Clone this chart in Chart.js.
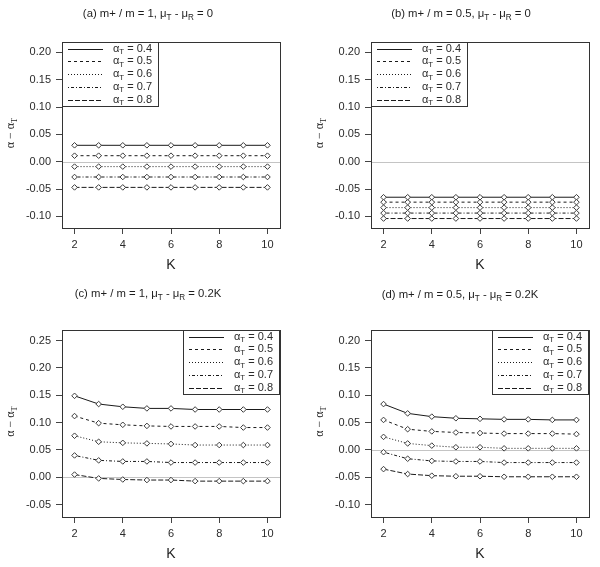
<!DOCTYPE html>
<html>
<head>
<meta charset="utf-8">
<script src="https://cdn.jsdelivr.net/npm/chart.js@4"></script>
<style>
body{margin:0;background:#fff;width:600px;height:567px;position:relative;overflow:hidden}
canvas{position:absolute}
</style>
</head>
<body>
<canvas id="pa" width="300" height="283" style="left:0;top:0"></canvas>
<canvas id="pb" width="300" height="283" style="left:300px;top:0"></canvas>
<canvas id="pc" width="300" height="287" style="left:0;top:280px"></canvas>
<canvas id="pd" width="300" height="287" style="left:300px;top:280px"></canvas>
<script>
const K = [2,3,4,5,6,7,8,9,10];
const alphaT = ['0.4','0.5','0.6','0.7','0.8'];
const xTicks = [2,4,6,8,10];
const yTicksAB = [-0.10,-0.05,0.00,0.05,0.10,0.15,0.20];
const yTicksC = [-0.05,0.00,0.05,0.10,0.15,0.20,0.25];
const yTicksD = [-0.10,-0.05,0.00,0.05,0.10,0.15,0.20];

// alpha - alpha_T, one row per alpha_T
const diffA = [
  [0.030,0.030,0.030,0.030,0.030,0.030,0.030,0.030,0.030],
  [0.011,0.011,0.011,0.011,0.011,0.011,0.011,0.011,0.011],
  [-0.009,-0.009,-0.009,-0.009,-0.009,-0.009,-0.009,-0.009,-0.009],
  [-0.028,-0.028,-0.028,-0.028,-0.028,-0.028,-0.028,-0.028,-0.028],
  [-0.047,-0.047,-0.047,-0.047,-0.047,-0.047,-0.047,-0.047,-0.047]
];
const diffB = [
  [-0.065,-0.065,-0.065,-0.065,-0.065,-0.065,-0.065,-0.065,-0.065],
  [-0.074,-0.074,-0.074,-0.074,-0.074,-0.074,-0.074,-0.074,-0.074],
  [-0.084,-0.084,-0.084,-0.084,-0.084,-0.084,-0.084,-0.084,-0.084],
  [-0.094,-0.094,-0.094,-0.094,-0.094,-0.094,-0.094,-0.094,-0.094],
  [-0.104,-0.104,-0.104,-0.104,-0.104,-0.104,-0.104,-0.104,-0.104]
];
const diffC = [
  [0.149,0.134,0.129,0.126,0.126,0.124,0.124,0.124,0.124],
  [0.112,0.099,0.096,0.094,0.093,0.093,0.093,0.091,0.091],
  [0.076,0.065,0.063,0.062,0.061,0.059,0.059,0.059,0.059],
  [0.040,0.031,0.029,0.029,0.027,0.027,0.027,0.027,0.027],
  [0.005,-0.002,-0.004,-0.005,-0.005,-0.007,-0.007,-0.007,-0.007]
];
const diffD = [
  [0.084,0.067,0.061,0.058,0.057,0.056,0.056,0.055,0.055],
  [0.055,0.038,0.034,0.032,0.031,0.030,0.030,0.030,0.029],
  [0.024,0.012,0.008,0.005,0.005,0.003,0.003,0.003,0.003],
  [-0.004,-0.016,-0.020,-0.021,-0.021,-0.023,-0.023,-0.023,-0.023],
  [-0.035,-0.044,-0.047,-0.048,-0.048,-0.049,-0.049,-0.049,-0.049]
];

const titleA = [['(a) m+ / m = 1, \u03bc',0],['T',1],[' - \u03bc',0],['R',1],[' = 0',0]];
const titleB = [['(b) m+ / m = 0.5, \u03bc',0],['T',1],[' - \u03bc',0],['R',1],[' = 0',0]];
const titleC = [['(c) m+ / m = 1, \u03bc',0],['T',1],[' - \u03bc',0],['R',1],[' = 0.2K',0]];
const titleD = [['(d) m+ / m = 0.5, \u03bc',0],['T',1],[' - \u03bc',0],['R',1],[' = 0.2K',0]];

// R lty 1..5
const dashes = [[], [3,3], [1,2], [1,2,3,2], [5,2]];
const SANS = '"Liberation Sans", Arial, sans-serif';
const SERIF = '"Liberation Serif", "DejaVu Serif", serif';

function drawRich(ctx, segs, x, y, size, fam, align){
  let w = 0;
  segs.forEach(s => {
    ctx.font = (s[1] ? size*0.72 : size) + 'px ' + fam;
    w += ctx.measureText(s[0]).width;
  });
  let cx = align === 'center' ? x - w/2 : x;
  ctx.textAlign = 'left';
  ctx.textBaseline = 'middle';
  segs.forEach(s => {
    ctx.font = (s[1] ? size*0.72 : size) + 'px ' + fam;
    ctx.fillText(s[0], cx, y + (s[1] ? size*0.3 : 0));
    cx += ctx.measureText(s[0]).width;
  });
}

const rDeco = {
  id: 'rdeco',
  beforeDatasetsDraw(chart, args, o){
    const {ctx, chartArea: a} = chart;
    const y0 = Math.round(chart.scales.y.getPixelForValue(0)) + 0.5;
    ctx.save();
    ctx.strokeStyle = '#c4c4c4';
    ctx.lineWidth = 1;
    ctx.beginPath();
    ctx.moveTo(a.left, y0);
    ctx.lineTo(a.right, y0);
    ctx.stroke();
    ctx.restore();
  },
  afterDraw(chart, args, o){
    const {ctx, chartArea: a} = chart;
    ctx.save();
    ctx.fillStyle = '#2b2b2b';
    ctx.strokeStyle = '#333';
    ctx.lineWidth = 1;
    // legend
    const lw = 96, lh = 64;
    const lx = o.legend === 'left' ? Math.round(a.left) : Math.round(a.right) - lw - 1;
    const ly = Math.round(a.top);
    ctx.fillStyle = '#fff';
    ctx.fillRect(lx, ly, lw, lh);
    ctx.strokeRect(lx + 0.5, ly + 0.5, lw, lh);
    alphaT.forEach((t, i) => {
      const ry = ly + 6.5 + 12.8*i;
      ctx.setLineDash(dashes[i]);
      ctx.strokeStyle = '#1a1a1a';
      ctx.beginPath();
      ctx.moveTo(lx + 6, Math.round(ry) + 0.5);
      ctx.lineTo(lx + 41, Math.round(ry) + 0.5);
      ctx.stroke();
      ctx.setLineDash([]);
      ctx.fillStyle = '#2b2b2b';
      drawRich(ctx, [['\u03b1',0],['T',1],[' = ' + t,0]], lx + 51, ry, 11, SANS, 'left');
    });
    // plot box
    ctx.strokeStyle = '#333';
    ctx.strokeRect(Math.round(a.left) + 0.5, Math.round(a.top) + 0.5,
                   Math.round(a.right - a.left), Math.round(a.bottom - a.top));
    // title
    ctx.fillStyle = '#1e1e1e';
    drawRich(ctx, o.title, o.tx, o.ty, 11.3, SANS, 'center');
    // x label
    ctx.font = '14px ' + SANS;
    ctx.textAlign = 'center';
    ctx.textBaseline = 'middle';
    ctx.fillText('K', (a.left + a.right)/2, a.bottom + 37);
    // y label
    ctx.translate(o.ylx, (a.top + a.bottom)/2 - 2);
    ctx.rotate(-Math.PI/2);
    drawRich(ctx, [['\u03b1 \u2212 \u03b1',0],['T',1]], 0, 0, 12, SERIF, 'center');
    ctx.restore();
  }
};

function makePanel(id, series, yTicks, yMin, yMax, geo){
  const datasets = series.map((vals, i) => ({
    label: '\u03b1T = ' + alphaT[i],
    data: vals.map((v, j) => ({x: K[j], y: v})),
    showLine: true,
    borderColor: '#1a1a1a',
    borderWidth: 1,
    borderDash: dashes[i],
    pointStyle: 'rectRot',
    pointRadius: 2.8,
    pointBorderColor: '#3a3a3a',
    pointBackgroundColor: '#fff',
    pointBorderWidth: 1,
    tension: 0
  }));
  const grid = {display: true, drawOnChartArea: false, drawTicks: true, tickLength: 6, color: '#444', tickColor: '#444'};
  const tickFont = {family: SANS, size: 11};
  return new Chart(document.getElementById(id), {
    type: 'scatter',
    data: {datasets},
    options: {
      responsive: false,
      animation: false,
      events: [],
      layout: {padding: {left: 0, top: geo.top, right: geo.right, bottom: 0}},
      plugins: {legend: {display: false}, tooltip: {enabled: false}, rdeco: geo},
      scales: {
        x: {
          type: 'linear', min: 1.48, max: 10.52,
          afterBuildTicks: s => { s.ticks = xTicks.map(v => ({value: v})); },
          afterFit: s => { s.height = geo.xh; },
          grid, border: {display: false},
          ticks: {padding: 4, color: '#2b2b2b', font: tickFont, maxRotation: 0, callback: v => String(v)}
        },
        y: {
          type: 'linear', min: yMin, max: yMax,
          afterBuildTicks: s => { s.ticks = yTicks.map(v => ({value: v})); },
          afterFit: s => { s.width = geo.yw; },
          grid, border: {display: false},
          ticks: {padding: 5, color: '#2b2b2b', font: tickFont, callback: v => v.toFixed(2)}
        }
      }
    },
    plugins: [rDeco]
  });
}

makePanel('pa', diffA, yTicksAB, -0.1213, 0.219,
  {top: 42, right: 20, yw: 62, xh: 55, legend: 'left', title: titleA, tx: 148, ty: 14, ylx: 11});
makePanel('pb', diffB, yTicksAB, -0.1213, 0.219,
  {top: 42, right: 11, yw: 71, xh: 55, legend: 'left', title: titleB, tx: 161, ty: 14, ylx: 20});
makePanel('pc', diffC, yTicksC, -0.0726, 0.2694,
  {top: 50, right: 20, yw: 62, xh: 50, legend: 'right', title: titleC, tx: 148, ty: 14, ylx: 11});
makePanel('pd', diffD, yTicksD, -0.1226, 0.2195,
  {top: 50, right: 11, yw: 71, xh: 50, legend: 'right', title: titleD, tx: 160, ty: 15, ylx: 20});
</script>
</body>
</html>
